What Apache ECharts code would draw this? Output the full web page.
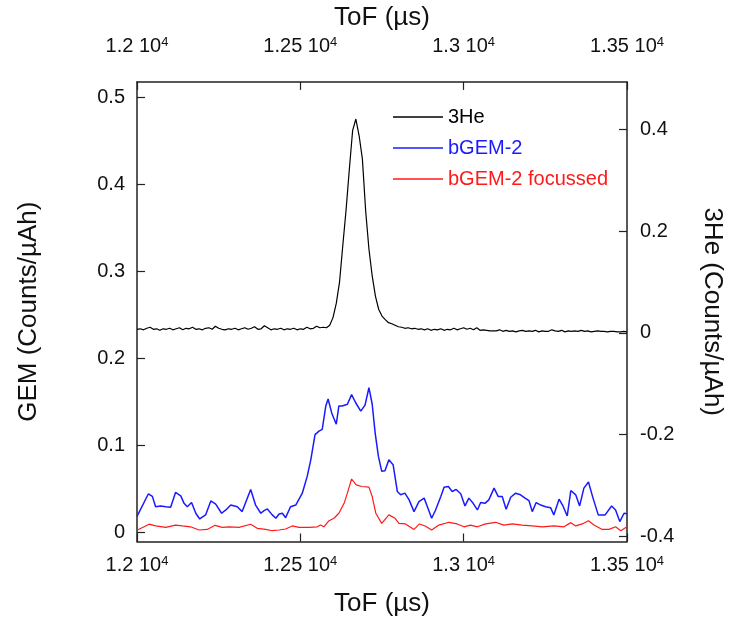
<!DOCTYPE html>
<html>
<head>
<meta charset="utf-8">
<script src="https://cdn.jsdelivr.net/npm/echarts@6/dist/echarts.min.js"></script>
<style>html,body{margin:0;padding:0;background:#fff;}#c{width:735px;height:626px;}</style>
</head>
<body>
<div id="c"></div>
<script>
// ---- Data ----
const xTicks = [12000, 12500, 13000, 13500];
const xTickLabels = ['1.2', '1.25', '1.3', '1.35'];
const leftTicks = [0, 0.1, 0.2, 0.3, 0.4, 0.5];
const rightTicks = [-0.4, -0.2, 0, 0.2, 0.4];

// 3He (right axis)
const heTof = [12000,12010,12020,12030,12040,12050,12060,12070,12080,12090,
12100,12110,12120,12130,12140,12150,12160,12170,12180,12190,
12200,12210,12220,12230,12240,12250,12260,12270,12280,12290,
12300,12310,12320,12330,12340,12350,12360,12370,12380,12390,
12400,12410,12420,12430,12440,12450,12460,12470,12480,12490,
12500,12510,12520,12530,12540,12550,12560,12570,12580,12590,
12600,12610,12620,12630,12640,12650,12660,12670,12680,12690,
12700,12710,12720,12730,12740,12750,12760,12770,12780,12790,
12800,12810,12820,12830,12840,12850,12860,12870,12880,12890,
12900,12910,12920,12930,12940,12950,12960,12970,12980,12990,
13000,13010,13020,13030,13040,13050,13060,13070,13080,13090,
13100,13110,13120,13130,13140,13150,13160,13170,13180,13190,
13200,13210,13220,13230,13240,13250,13260,13270,13280,13290,
13300,13310,13320,13330,13340,13350,13360,13370,13380,13390,
13400,13410,13420,13430,13440,13450,13460,13470,13480,13490,13500];
const heVals = [0.007,0.008,0.006,0.009,0.011,0.007,0.008,0.005,0.008,0.007,
0.009,0.006,0.008,0.010,0.006,0.009,0.008,0.011,0.007,0.008,
0.006,0.009,0.010,0.007,0.013,0.009,0.007,0.006,0.008,0.007,
0.009,0.006,0.008,0.010,0.007,0.009,0.012,0.007,0.008,0.014,
0.010,0.006,0.008,0.007,0.009,0.006,0.008,0.007,0.009,0.006,
0.008,0.007,0.011,0.008,0.009,0.013,0.010,0.011,0.010,0.015,
0.030,0.058,0.100,0.172,0.242,0.322,0.398,0.421,0.388,0.342,
0.240,0.165,0.112,0.072,0.046,0.033,0.026,0.020,0.018,0.015,
0.012,0.011,0.009,0.010,0.008,0.009,0.007,0.008,0.006,0.008,
0.005,0.007,0.006,0.008,0.005,0.007,0.006,0.009,0.006,0.008,
0.010,0.007,0.009,0.006,0.010,0.005,0.006,0.005,0.004,0.004,
0.004,0.006,0.003,0.005,0.003,0.004,0.002,0.004,0.005,0.003,
0.004,0.003,0.005,0.002,0.004,0.003,0.003,0.006,0.004,0.003,
0.005,0.002,0.004,0.003,0.004,0.003,0.005,0.003,0.004,0.002,
0.003,0.004,0.003,0.003,0.002,0.003,0.003,0.002,0.002,0.003,0.002];

// bGEM-2 (left axis)
const gemTof = [12000,12035,12047,12057,12072,12088,12103,12118,12134,12144,
12154,12167,12180,12192,12210,12226,12241,12259,12272,12287,
12307,12322,12348,12363,12379,12389,12399,12414,12425,12435,
12445,12455,12470,12486,12506,12521,12532,12545,12557,12567,
12578,12585,12596,12610,12618,12628,12644,12657,12669,12685,
12698,12710,12720,12729,12739,12749,12759,12771,12784,12797,
12807,12820,12833,12848,12863,12879,12889,12902,12914,12930,
12940,12953,12965,12977,12991,13004,13016,13029,13042,13052,
13065,13077,13093,13106,13118,13130,13144,13159,13174,13188,
13200,13210,13222,13236,13251,13266,13276,13292,13304,13317,
13328,13343,13355,13368,13382,13396,13412,13433,13453,13465,
13478,13491,13500];
const gemVals = [0.018,0.044,0.041,0.029,0.030,0.029,0.0285,0.0455,0.0416,0.033,
0.029,0.034,0.0216,0.015,0.0197,0.0358,0.032,0.0216,0.0254,0.031,
0.029,0.0235,0.049,0.031,0.0216,0.0246,0.0266,0.0197,0.0158,0.0208,
0.0216,0.0165,0.029,0.031,0.0447,0.064,0.083,0.112,0.116,0.118,
0.145,0.153,0.137,0.124,0.145,0.145,0.147,0.158,0.149,0.139,
0.146,0.166,0.147,0.114,0.087,0.070,0.0705,0.083,0.0775,0.0466,
0.0428,0.0447,0.037,0.0235,0.035,0.039,0.029,0.0158,0.0254,0.0408,
0.0516,0.0524,0.0466,0.049,0.044,0.030,0.039,0.033,0.0254,0.0339,
0.033,0.037,0.0505,0.0408,0.0408,0.0262,0.040,0.0447,0.0428,0.039,
0.036,0.0235,0.0339,0.031,0.029,0.028,0.0197,0.0378,0.030,0.0185,
0.0477,0.0428,0.030,0.0505,0.0575,0.039,0.0197,0.0197,0.030,0.0254,
0.012,0.0216,0.021];

// bGEM-2 focussed (left axis)
const focTof = [12000,12037,12057,12088,12118,12139,12164,12190,12215,12239,
12261,12282,12312,12348,12368,12394,12414,12435,12455,12475,
12496,12527,12552,12562,12572,12588,12603,12618,12634,12644,
12657,12671,12688,12710,12720,12731,12749,12771,12790,12802,
12822,12848,12865,12882,12902,12924,12955,12980,13001,13021,
13042,13067,13098,13123,13149,13179,13210,13241,13276,13307,
13328,13343,13363,13382,13399,13424,13445,13465,13481,13500];
const focVals = [0.002,0.009,0.007,0.0054,0.008,0.007,0.006,0.0023,0.003,0.0077,
0.0054,0.006,0.0054,0.0089,0.0043,0.003,0.0015,0.0023,0.0035,0.007,
0.0054,0.0054,0.006,0.008,0.006,0.013,0.0158,0.0216,0.033,0.0447,
0.061,0.0543,0.0524,0.0516,0.0408,0.0216,0.010,0.0197,0.0158,0.010,
0.0093,0.003,0.0093,0.007,0.0023,0.008,0.0112,0.0093,0.006,0.008,
0.006,0.0093,0.0112,0.008,0.0093,0.008,0.007,0.006,0.007,0.006,
0.0108,0.007,0.0093,0.013,0.008,0.003,0.003,0.006,0.0015,0.006];

const seriesNames = ['3He', 'bGEM-2', 'bGEM-2 focussed'];
const seriesColors = ['#000000', '#1a1aff', '#ff1a1a'];

// ---- Chart ----
const FONT = "'Liberation Sans', Arial, sans-serif";
const TXT = '#111';
const TICK_FS = 20;
const NAME_FS = 26;
const zip = (a, b) => a.map((v, i) => [v, b[i]]);

const frameLine = { show: true, onZero: false, lineStyle: { color: '#222', width: 1.5 } };
const tick = { show: true, inside: true, length: 8, lineStyle: { color: '#222', width: 1.2 } };

function xAxisDef(pos, margin, gap) {
  return {
    type: 'value', position: pos, min: 12000, max: 13500, interval: 500,
    name: 'ToF (\u00b5s)', nameLocation: 'middle', nameGap: gap,
    nameTextStyle: { fontFamily: FONT, fontSize: NAME_FS, color: TXT },
    axisLine: frameLine, axisTick: tick, splitLine: { show: false },
    axisLabel: {
      margin: margin, fontFamily: FONT, color: TXT,
      formatter: v => {
        const i = xTicks.indexOf(v);
        return i < 0 ? '' : '{m|' + xTickLabels[i] + ' 10}{s|4}';
      },
      rich: {
        m: { fontFamily: FONT, fontSize: TICK_FS, color: TXT, lineHeight: 22 },
        s: { fontFamily: FONT, fontSize: 13, color: TXT, verticalAlign: 'top', lineHeight: 22 }
      }
    }
  };
}

const chart = echarts.init(document.getElementById('c'), null, { renderer: 'canvas' });
chart.setOption({
  backgroundColor: '#fff',
  animation: false,
  grid: { left: 137, right: 108, top: 80, bottom: 84.5, containLabel: false },
  legend: {
    orient: 'vertical', left: 393, top: 107, padding: 0,
    itemWidth: 50, itemHeight: 1.5, itemGap: 11, itemTextGap: 5,
    icon: 'rect',
    textStyle: { fontFamily: FONT, fontSize: 20 },
    data: seriesNames.map((n, i) => ({ name: n, textStyle: { color: seriesColors[i] } }))
  },
  xAxis: [xAxisDef('bottom', 13, 49), xAxisDef('top', 24, 48)],
  yAxis: [
    {
      type: 'value', position: 'left', min: -0.0109, max: 0.5178,
      name: 'GEM (Counts/\u00b5Ah)', nameLocation: 'middle', nameGap: 95,
      nameTextStyle: { fontFamily: FONT, fontSize: NAME_FS, color: TXT },
      axisLine: frameLine,
      axisTick: Object.assign({}, tick, { customValues: leftTicks }),
      splitLine: { show: false },
      axisLabel: { customValues: leftTicks, margin: 12, fontFamily: FONT, fontSize: TICK_FS, color: TXT,
        formatter: v => String(v) }
    },
    {
      type: 'value', position: 'right', min: -0.4108, max: 0.4941,
      name: '3He (Counts/\u00b5Ah)', nameLocation: 'middle', nameGap: 72, nameRotate: -90,
      nameTextStyle: { fontFamily: FONT, fontSize: NAME_FS, color: TXT },
      axisLine: frameLine,
      axisTick: Object.assign({}, tick, { customValues: rightTicks }),
      splitLine: { show: false },
      axisLabel: { customValues: rightTicks, margin: 13, fontFamily: FONT, fontSize: TICK_FS, color: TXT,
        formatter: v => String(v) }
    }
  ],
  series: [
    { name: seriesNames[0], type: 'line', xAxisIndex: 0, yAxisIndex: 1, data: zip(heTof, heVals),
      showSymbol: false, symbol: 'none', lineStyle: { color: seriesColors[0], width: 1.2 }, itemStyle: { color: seriesColors[0] } },
    { name: seriesNames[1], type: 'line', xAxisIndex: 0, yAxisIndex: 0, data: zip(gemTof, gemVals),
      showSymbol: false, symbol: 'none', lineStyle: { color: seriesColors[1], width: 1.5 }, itemStyle: { color: seriesColors[1] } },
    { name: seriesNames[2], type: 'line', xAxisIndex: 0, yAxisIndex: 0, data: zip(focTof, focVals),
      showSymbol: false, symbol: 'none', lineStyle: { color: seriesColors[2], width: 1.2 }, itemStyle: { color: seriesColors[2] } }
  ]
});
</script>
</body>
</html>
